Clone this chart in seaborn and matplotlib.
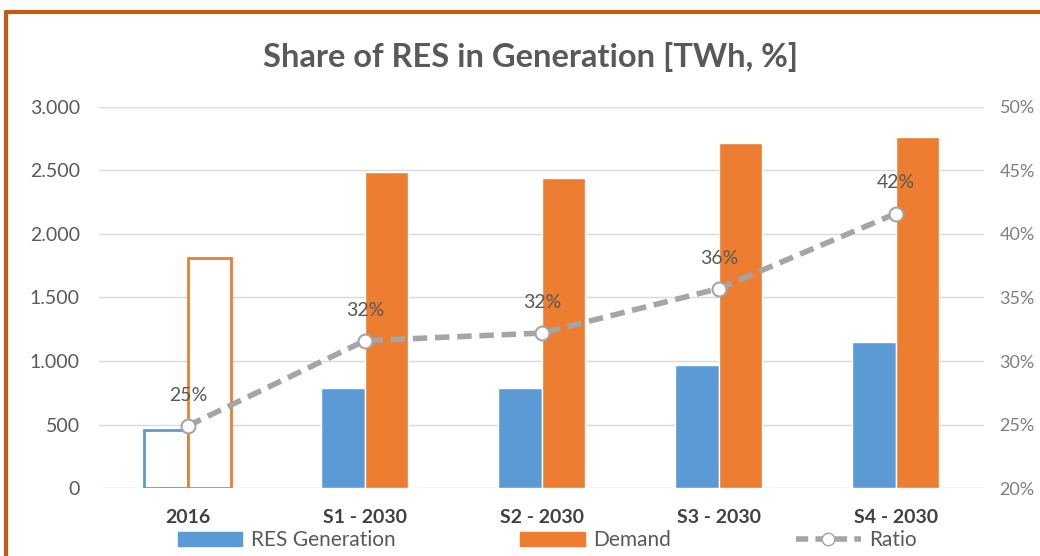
import matplotlib
matplotlib.use('Agg')
import matplotlib.pyplot as plt
import matplotlib.ticker as mticker
from matplotlib.lines import Line2D
from matplotlib.patches import Patch
import seaborn as sns
import pandas as pd
import numpy as np

# --- data ---
categories = ['2016', 'S1 - 2030', 'S2 - 2030', 'S3 - 2030', 'S4 - 2030']
res_generation = [457, 787, 787, 970, 1150]
demand = [1811, 2488, 2443, 2717, 2764]
ratio = [24.9, 31.6, 32.2, 35.7, 41.6]
ratio_labels = ['25%', '32%', '32%', '36%', '42%']

BLUE = '#5B9BD5'
ORANGE = '#ED7D31'
GREY_LINE = '#A5A5A5'
TXT = '#595959'

sns.set_theme(style="white")
plt.rcParams['font.family'] = ['Lato', 'DejaVu Sans']

df = pd.DataFrame({
    'cat': categories * 2,
    'value': res_generation + demand,
    'serie': ['RES Generation'] * 5 + ['Demand'] * 5,
})

fig = plt.figure(figsize=(10.4, 5.56), dpi=100)
ax = fig.add_axes([0.0955, 0.122, 0.851, 0.686])

sns.barplot(data=df, x='cat', y='value', hue='serie', order=categories,
            hue_order=['RES Generation', 'Demand'],
            palette=[BLUE, ORANGE], width=0.49, gap=0, ax=ax,
            legend=False, saturation=1)

# barras de 2016 ficam vazadas
n = len(categories)
for i, p in enumerate(ax.patches):
    cor = BLUE if i < n else ORANGE
    if i % n == 0:
        p.set_facecolor('white')
        p.set_edgecolor(cor)
        p.set_linewidth(2)

ax.set_ylim(0, 3000)
ax.set_yticks(np.arange(0, 3001, 500))
ax.yaxis.set_major_formatter(mticker.FuncFormatter(lambda v, _: f'{int(v):,}'.replace(',', '.')))
ax.yaxis.grid(True, color='#D9D9D9', linewidth=1)
ax.set_axisbelow(True)
for s in ax.spines.values():
    s.set_visible(False)
ax.set_xlabel('')
ax.set_ylabel('')
ax.tick_params(axis='y', labelsize=14, colors=TXT, length=0, pad=14)
ax.tick_params(axis='x', labelsize=14, colors='#404040', length=0, pad=15)
for t in ax.get_xticklabels():
    t.set_fontweight('bold')

# linha do ratio no eixo secundário
ax2 = ax.twinx()
sns.lineplot(x=np.arange(n), y=ratio, ax=ax2, color=GREY_LINE, linewidth=4,
             linestyle=(0, (2.6, 1.4)), marker='o', markersize=10,
             markerfacecolor='white', markeredgecolor=GREY_LINE, markeredgewidth=1.5)
ax2.set_ylim(20, 50)
ax2.set_yticks(np.arange(20, 51, 5))
ax2.yaxis.set_major_formatter(mticker.FuncFormatter(lambda v, _: f'{int(v)}%'))
ax2.tick_params(axis='y', labelsize=13, colors='#7F7F7F', length=0, pad=11)
for s in ax2.spines.values():
    s.set_visible(False)
ax2.set_ylabel('')
ax.set_xlim(-0.5, n - 0.5)

for xi, yi, lab in zip(range(n), ratio, ratio_labels):
    ax2.annotate(lab, (xi, yi), xytext=(0, 22), textcoords='offset points',
                 ha='center', va='center', fontsize=14, color=TXT)

fig.text(0.51, 0.897, 'Share of RES in Generation [TWh, %]', ha='center', va='center',
         fontsize=23.5, fontweight='bold', color=TXT)

handles = [
    Patch(facecolor=BLUE, edgecolor=BLUE),
    Patch(facecolor=ORANGE, edgecolor=ORANGE),
    Line2D([0], [0], color=GREY_LINE, linewidth=4, linestyle=(0, (2.2, 1.3)),
           marker='o', markersize=9, markerfacecolor='white', markeredgecolor=GREY_LINE),
]
leg = fig.legend(handles, ['RES Generation', 'Demand', 'Ratio'], loc='center',
                 bbox_to_anchor=(0.526, 0.028), ncol=3, frameon=False, fontsize=15,
                 handlelength=3.1, handleheight=0.7, columnspacing=6.0, handletextpad=0.4)
for t in leg.get_texts():
    t.set_color(TXT)

# bordas laranja (topo e esquerda)
fig.add_artist(Line2D([0.006, 0.006], [0.0, 0.978], color='#C55A11', linewidth=3))
fig.add_artist(Line2D([0.006, 1.0], [0.978, 0.978], color='#C55A11', linewidth=3))

fig.savefig('out.png', dpi=100)
plt.close('all')
